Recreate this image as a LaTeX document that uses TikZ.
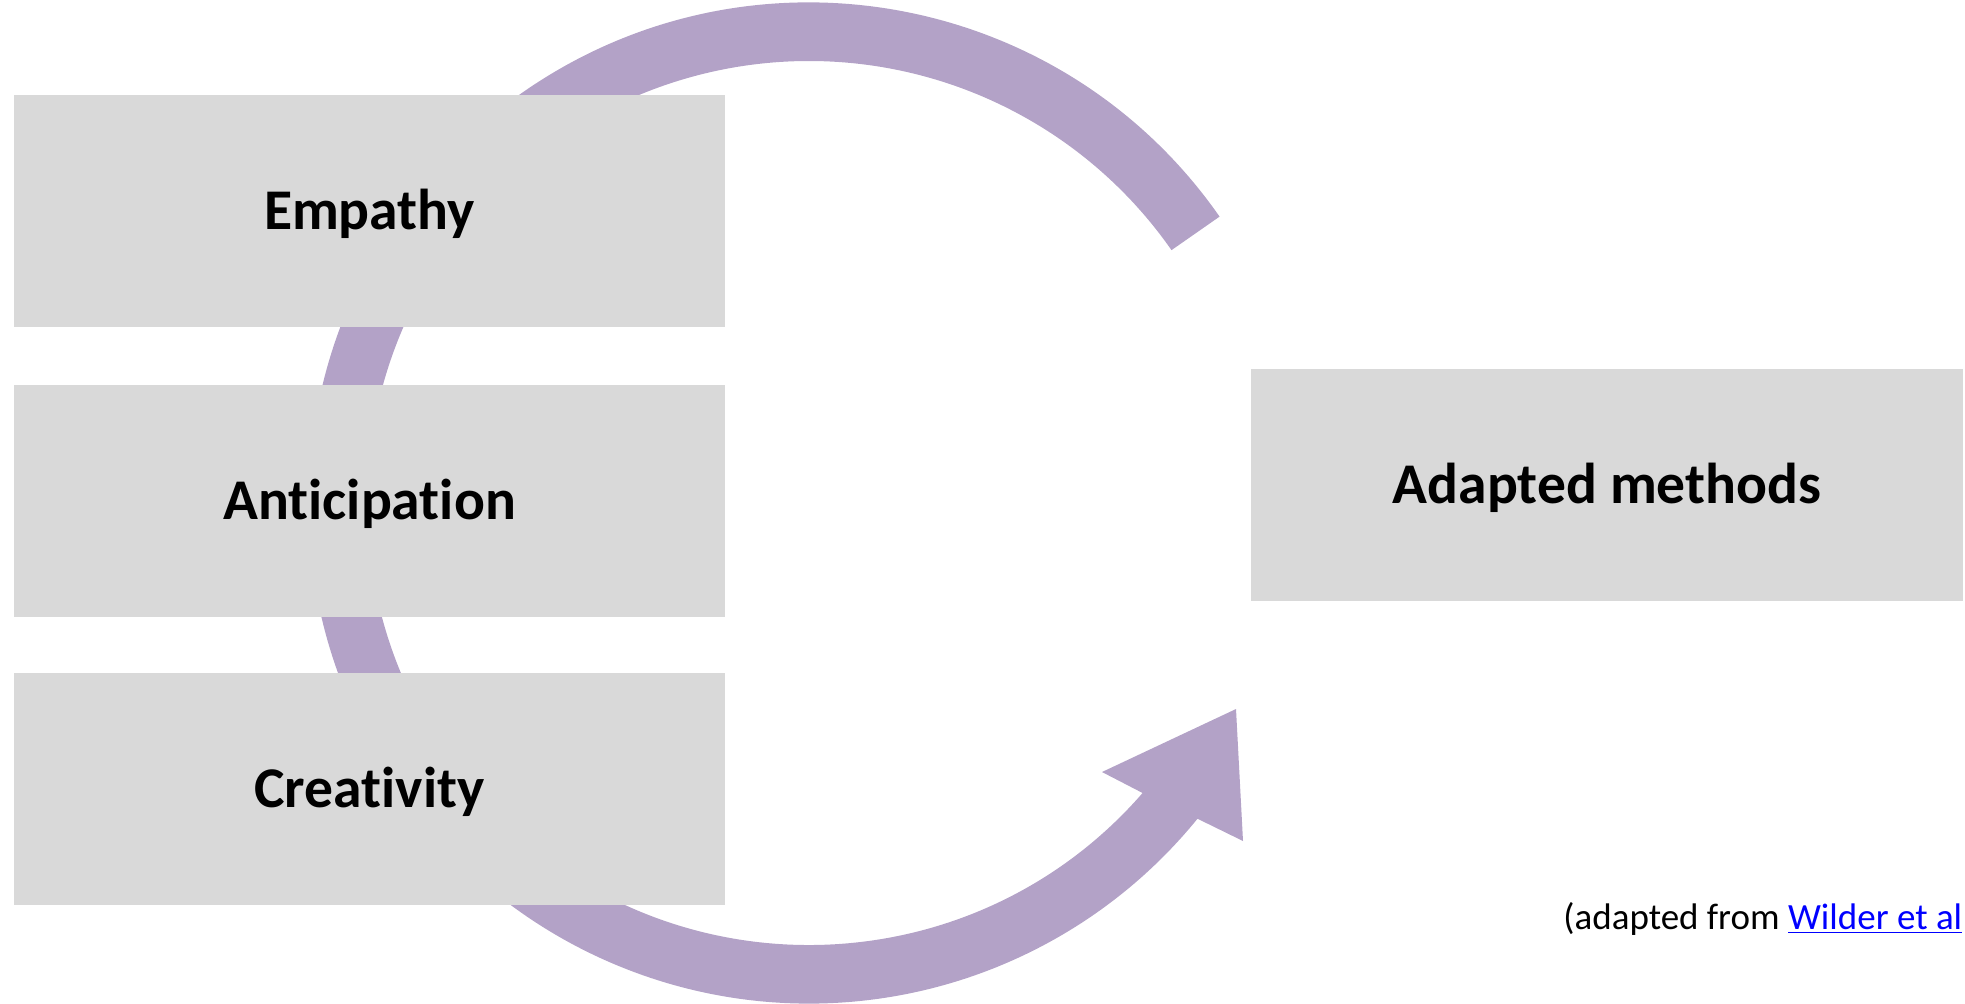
\documentclass[tikz,border=0pt]{standalone}
\usepackage{fontspec}
\setmainfont[Ligatures=NoCommon]{Carlito}
\usetikzlibrary{calc}
\definecolor{boxgray}{HTML}{D9D9D9}
\definecolor{cyclepurple}{HTML}{B3A2C7}
\definecolor{linkblue}{HTML}{0000FF}
\tikzset{
  stagebox/.style={fill=boxgray, draw=none, inner sep=0pt,
    minimum width=355.5pt, minimum height=116pt,
    text height=18.5pt, text depth=0pt,
    font=\fontsize{28.8}{34}\selectfont\bfseries, text=black},
  resultbox/.style={stagebox, minimum width=356pt}
}
\begin{document}
\begin{tikzpicture}[x=0.5pt, y=-0.5pt]
  \useasboundingbox (0,0) rectangle (1965,1003);

  % circular arrow running behind the three stage boxes
  \coordinate (C) at (809,503);
  \fill[cyclepurple]
    ($(C)+(34.9:250.3pt)$) arc[start angle=34.9, end angle=320.9, radius=250.3pt]
    -- (1243,841) coordinate (barbout)
    -- (1236,709) coordinate (tip)
    -- (1102,772) coordinate (barbin)
    -- ($(C)+(319:221pt)$)
    arc[start angle=319, end angle=34.9, radius=221pt]
    -- cycle;

  % stage boxes (content box is the cap height, so capitals sit centred)
  \node[stagebox] (empathy)      at (369.5,211) {Empathy};
  \node[stagebox] (anticipation) at (369.5,501) {Anticipation};
  \node[stagebox] (creativity)   at (369.5,789) {Creativity};

  % outcome box
  \node[resultbox] (adapted) at (1607,484.5) {Adapted methods};

  % source note
  \node[anchor=base west, inner sep=0pt, font=\fontsize{18.5}{22}\selectfont]
    (source) at (1563,929)
    {(adapted from \textcolor{linkblue}{\underline{Wilder et al}}};
\end{tikzpicture}
\end{document}
